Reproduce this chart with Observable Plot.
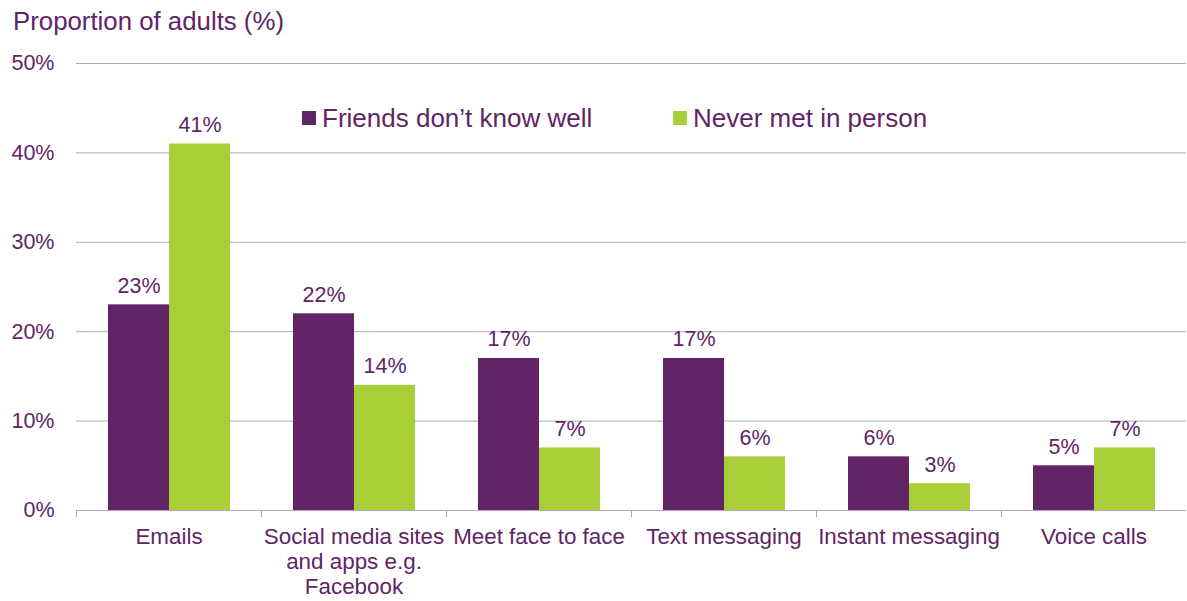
<!DOCTYPE html>
<html>
<head>
<meta charset="utf-8">
<script src="https://cdn.jsdelivr.net/npm/d3@7"></script>
<script src="https://cdn.jsdelivr.net/npm/@observablehq/plot@0.6"></script>
<style>
  body { margin: 0; background: #fff; font-family: "Liberation Sans", Arial, sans-serif; color: #612466; }
  #wrap { position: relative; width: 1187px; height: 601px; }
  #title { position: absolute; left: 13px; top: 9px; font-size: 25.8px; line-height: 1; white-space: nowrap; }
  #chart { position: absolute; left: 0; top: 40px; }
  .leg { position: absolute; font-size: 26px; line-height: 1; white-space: nowrap; display: flex; align-items: center; }
  .sw { width: 14px; height: 14px; margin-right: 6px; }
</style>
</head>
<body>
<div id="wrap">
  <div id="title">Proportion of adults (%)</div>
  <div id="chart"></div>
  <div class="leg" id="leg0" style="left:302px; top:105px;"></div>
  <div class="leg" id="leg1" style="left:673px; top:105px;"></div>
</div>
<script>
const categories = ["Emails", "Social media sites and apps e.g. Facebook", "Meet face to face", "Text messaging", "Instant messaging", "Voice calls"];
const tickLabels = ["Emails", "Social media sites\nand apps e.g.\nFacebook", "Meet face to face", "Text messaging", "Instant messaging", "Voice calls"];
const series = ["Friends don\u2019t know well", "Never met in person"];
const friendsValues = [23, 22, 17, 17, 6, 5];
const neverMetValues = [41, 14, 7, 6, 3, 7];
const yTicks = [0, 10, 20, 30, 40, 50];
const colors = ["#612466", "#a8cf38"];

const data = [];
categories.forEach((c, i) => {
  data.push({category: c, series: series[0], value: friendsValues[i]});
  data.push({category: c, series: series[1], value: neverMetValues[i]});
});

const labelOf = new Map(categories.map((c, i) => [c, tickLabels[i]]));
const textColor = "#612466";
const gridColor = "#b6a5b8";

const chart = Plot.plot({
  width: 1187,
  height: 561,
  marginTop: 23,
  marginBottom: 91,
  marginLeft: 75,
  marginRight: 0,
  style: {fontFamily: "'Liberation Sans', Arial, sans-serif", fontSize: "21.5px", color: textColor, background: "#fff"},
  fx: {domain: categories, padding: 0, label: null},
  x: {domain: series, paddingInner: 0, paddingOuter: 0.5, axis: null},
  y: {domain: [0, 50], ticks: yTicks, label: null},
  color: {domain: series, range: colors},
  marks: [
    Plot.gridY(yTicks, {stroke: gridColor, strokeOpacity: 1, strokeWidth: 1}),
    Plot.frame({anchor: "left", insetTop: 447, insetBottom: -6, stroke: gridColor}),
    Plot.barY(data, {fx: "category", x: "series", y: "value", fill: "series"}),
    Plot.text(data, {fx: "category", x: "series", y: "value", text: d => d.value + "%", dy: -19, fill: textColor, fontSize: 21.5}),
    Plot.axisY(yTicks, {tickSize: 0, tickPadding: 22, tickFormat: d => d + "%", fill: textColor, fontSize: 21.5, label: null}),
    Plot.axisFx({anchor: "bottom", tickSize: 0, tickPadding: 16, tickFormat: d => labelOf.get(d), lineHeight: 1.12, fill: textColor, fontSize: 22.4, label: null})
  ]
});
document.getElementById("chart").appendChild(chart);

["leg0", "leg1"].forEach((id, i) => {
  const el = document.getElementById(id);
  const sw = document.createElement("span");
  sw.className = "sw";
  sw.style.background = colors[i];
  const tx = document.createElement("span");
  tx.textContent = series[i];
  el.appendChild(sw);
  el.appendChild(tx);
});
</script>
</body>
</html>
